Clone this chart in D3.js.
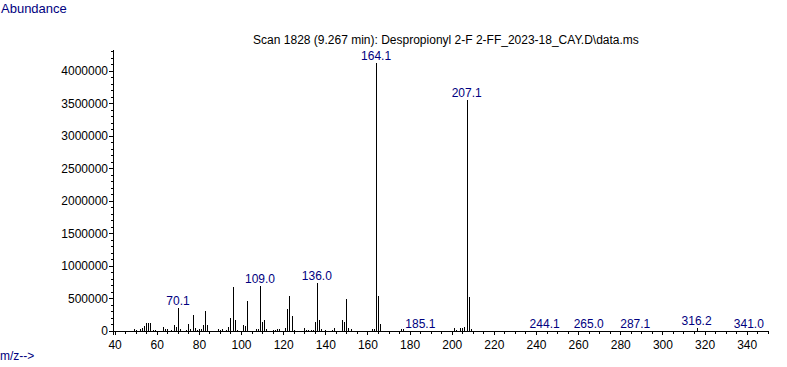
<!DOCTYPE html>
<html>
<head>
<meta charset="utf-8">
<script src="https://cdn.jsdelivr.net/npm/d3@7"></script>
<style>
  html, body { margin: 0; padding: 0; background: #fff; }
  svg { display: block; }
  text { font-family: "Liberation Sans", Arial, sans-serif; }
</style>
</head>
<body>
<svg id="chart" width="787" height="367"></svg>
<script>
// ---- Data ----
const titleText = "Scan 1828 (9.267 min): Despropionyl 2-F 2-FF_2023-18_CAY.D\\data.ms";
const yAxisTitle = "Abundance";
const xAxisTitle = "m/z-->";

const peakMz = [
  49, 50, 52, 53, 54, 55, 56, 57, 58, 59,
  63, 64, 65, 67, 68, 69, 70.1, 71, 74, 75,
  76, 77, 78, 79, 80, 81, 82, 83, 84, 89,
  90, 91, 93, 94, 95, 96, 97, 98, 101, 102,
  103, 107, 108, 109.0, 110, 111, 112, 115, 116, 117,
  118, 121, 122, 123, 124, 125, 130, 131, 132, 133,
  134, 135, 136.0, 137, 138, 140, 143, 144, 148, 149,
  150, 151, 152, 162, 163, 164.1, 165, 166, 176, 177,
  185.1, 201, 202, 204, 205, 206, 207.1, 208, 209, 244.1,
  265.0, 287.1, 316.2, 341.0
];
const peakAbundance = [
  30000, 20000, 30000, 50000, 80000, 125000, 128000, 128000, 20000, 15000,
  55000, 30000, 30000, 20000, 95000, 55000, 350000, 25000, 20000, 100000,
  25000, 245000, 40000, 20000, 35000, 35000, 85000, 305000, 90000, 30000,
  15000, 25000, 20000, 55000, 200000, 670000, 170000, 20000, 90000, 80000,
  460000, 30000, 25000, 685000, 135000, 170000, 30000, 10000, 15000, 25000,
  30000, 50000, 340000, 540000, 230000, 20000, 50000, 20000, 20000, 20000,
  15000, 135000, 745000, 170000, 30000, 15000, 20000, 45000, 170000, 145000,
  490000, 45000, 30000, 30000, 25000, 4120000, 540000, 115000, 25000, 25000,
  6000, 40000, 20000, 45000, 50000, 60000, 3550000, 530000, 30000, 5000,
  5000, 5000, 40000, 5000
];
const labelledMz = [70.1, 109.0, 136.0, 164.1, 185.1, 207.1, 244.1, 265.0, 287.1, 316.2, 341.0];

const xMajorTicks = [40, 60, 80, 100, 120, 140, 160, 180, 200, 220, 240, 260, 280, 300, 320, 340];
const yMajorTicks = [0, 500000, 1000000, 1500000, 2000000, 2500000, 3000000, 3500000, 4000000];

// ---- Layout ----
const svg = d3.select("#chart");
const navy = "#000080";

const x = d3.scaleLinear().domain([40, 340]).range([114.6, 746.7]);
const y = d3.scaleLinear().domain([0, 4000000]).range([331, 70.7]);

const xLeft = 113, xRight = 769, yTopVal = 4320000;

// Peaks
const peaks = peakMz.map((m, i) => ({ mz: m, v: peakAbundance[i] }));
svg.append("g")
  .attr("shape-rendering", "crispEdges")
  .selectAll("line")
  .data(peaks.filter(d => y(0) - y(d.v) >= 0.5))
  .join("line")
  .attr("x1", d => Math.round(x(d.mz)) + 0.5)
  .attr("x2", d => Math.round(x(d.mz)) + 0.5)
  .attr("y1", y(0))
  .attr("y2", d => Math.round(y(d.v)))
  .attr("stroke", "#000")
  .attr("stroke-width", 1);

// X axis: minor ticks every 5, major ticks every 20 with labels
const xMinor = d3.range(40, 351, 5);
const gxMinor = svg.append("g")
  .attr("transform", `translate(0,${y(0)})`)
  .call(d3.axisBottom(x).tickValues(xMinor).tickSize(3).tickFormat(""));
gxMinor.select(".domain").remove();

const gx = svg.append("g")
  .attr("transform", `translate(0,${y(0)})`)
  .call(d3.axisBottom(x).tickValues(xMajorTicks).tickSize(4).tickPadding(5).tickFormat(d3.format("d")));
gx.select(".domain").remove();
gx.selectAll("text").attr("font-size", 12).attr("font-family", "Liberation Sans, Arial, sans-serif").attr("fill", "#000");

// Y axis: minor ticks every 100000, major every 500000 with labels
const yMinor = d3.range(0, yTopVal + 1, 100000);
const gyMinor = svg.append("g")
  .attr("transform", `translate(${xLeft},0)`)
  .call(d3.axisLeft(y).tickValues(yMinor).tickSize(2).tickFormat(""));
gyMinor.select(".domain").remove();

const gy = svg.append("g")
  .attr("transform", `translate(${xLeft},0)`)
  .call(d3.axisLeft(y).tickValues(yMajorTicks).tickSize(4).tickPadding(1).tickFormat(d3.format("d")));
gy.select(".domain").remove();
gy.selectAll("text").attr("font-size", 12).attr("font-family", "Liberation Sans, Arial, sans-serif").attr("fill", "#000");

svg.selectAll(".tick line").attr("shape-rendering", "crispEdges").attr("stroke", "#000");

// Axis lines
svg.append("line")
  .attr("x1", xLeft + 0.5).attr("x2", xLeft + 0.5)
  .attr("y1", y(yTopVal)).attr("y2", y(0) + 4)
  .attr("stroke", "#000").attr("shape-rendering", "crispEdges");
svg.append("line")
  .attr("x1", xLeft).attr("x2", xRight)
  .attr("y1", y(0) + 0.5).attr("y2", y(0) + 0.5)
  .attr("stroke", "#000").attr("shape-rendering", "crispEdges");

// Peak labels
const fmt = d3.format(".1f");
svg.append("g")
  .selectAll("text")
  .data(labelledMz.map(m => peaks.find(p => p.mz === m)))
  .join("text")
  .attr("x", d => x(d.mz))
  .attr("y", d => Math.min(y(d.v), y(0)) - 3)
  .attr("text-anchor", "middle")
  .attr("font-size", 12)
  .attr("fill", navy)
  .text(d => fmt(d.mz));

// Title & axis titles
svg.append("text")
  .attr("x", 446).attr("y", 44)
  .attr("text-anchor", "middle")
  .attr("font-size", 12)
  .attr("fill", "#000")
  .text(titleText);

svg.append("text")
  .attr("x", 1).attr("y", 13)
  .attr("font-size", 13)
  .attr("fill", navy)
  .text(yAxisTitle);

svg.append("text")
  .attr("x", 0).attr("y", 360)
  .attr("font-size", 12)
  .attr("fill", navy)
  .text(xAxisTitle);
</script>
</body>
</html>
